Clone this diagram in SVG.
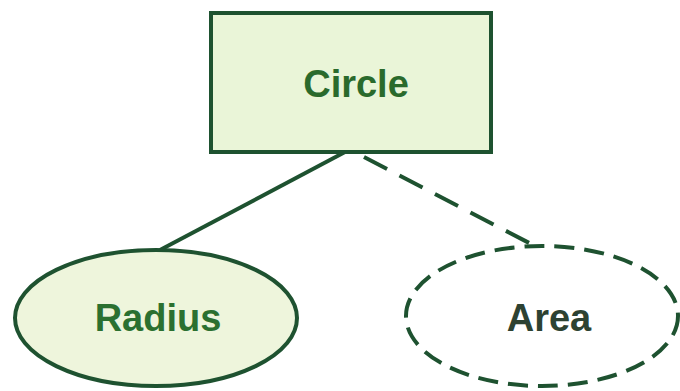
<svg xmlns="http://www.w3.org/2000/svg" width="680" height="391" viewBox="0 0 680 391">
<style>
.lbl{font-family:"Liberation Sans",Arial,sans-serif;font-weight:bold;font-size:38px;text-anchor:middle}
.edge{stroke:#1e5230;stroke-width:4;fill:none}
.dash{stroke-dasharray:20 10}
.dashl{stroke-dasharray:26 14}
</style>
<rect width="680" height="391" fill="#ffffff"/>
<g id="connectors">
<line class="edge" x1="345" y1="152" x2="160" y2="250"/>
<line class="edge dashl" x1="364" y1="157" x2="535" y2="246"/>
</g>
<g id="circle">
<rect x="211" y="13" width="280" height="139" fill="#eaf5d8" stroke="#1e5230" stroke-width="4"/>
<text class="lbl" x="356" y="97" fill="#2a6a2c">Circle</text>
</g>
<g id="radius">
<ellipse cx="156" cy="318" rx="141" ry="68" fill="#eef5dc" stroke="#1e5230" stroke-width="4"/>
<text class="lbl" x="158" y="331" fill="#2b7030">Radius</text>
</g>
<g id="area">
<ellipse cx="542" cy="316" rx="136" ry="70" fill="#fafdf6" class="edge dash"/>
<text class="lbl" x="549" y="331" fill="#2d4232">Area</text>
</g>
</svg>
